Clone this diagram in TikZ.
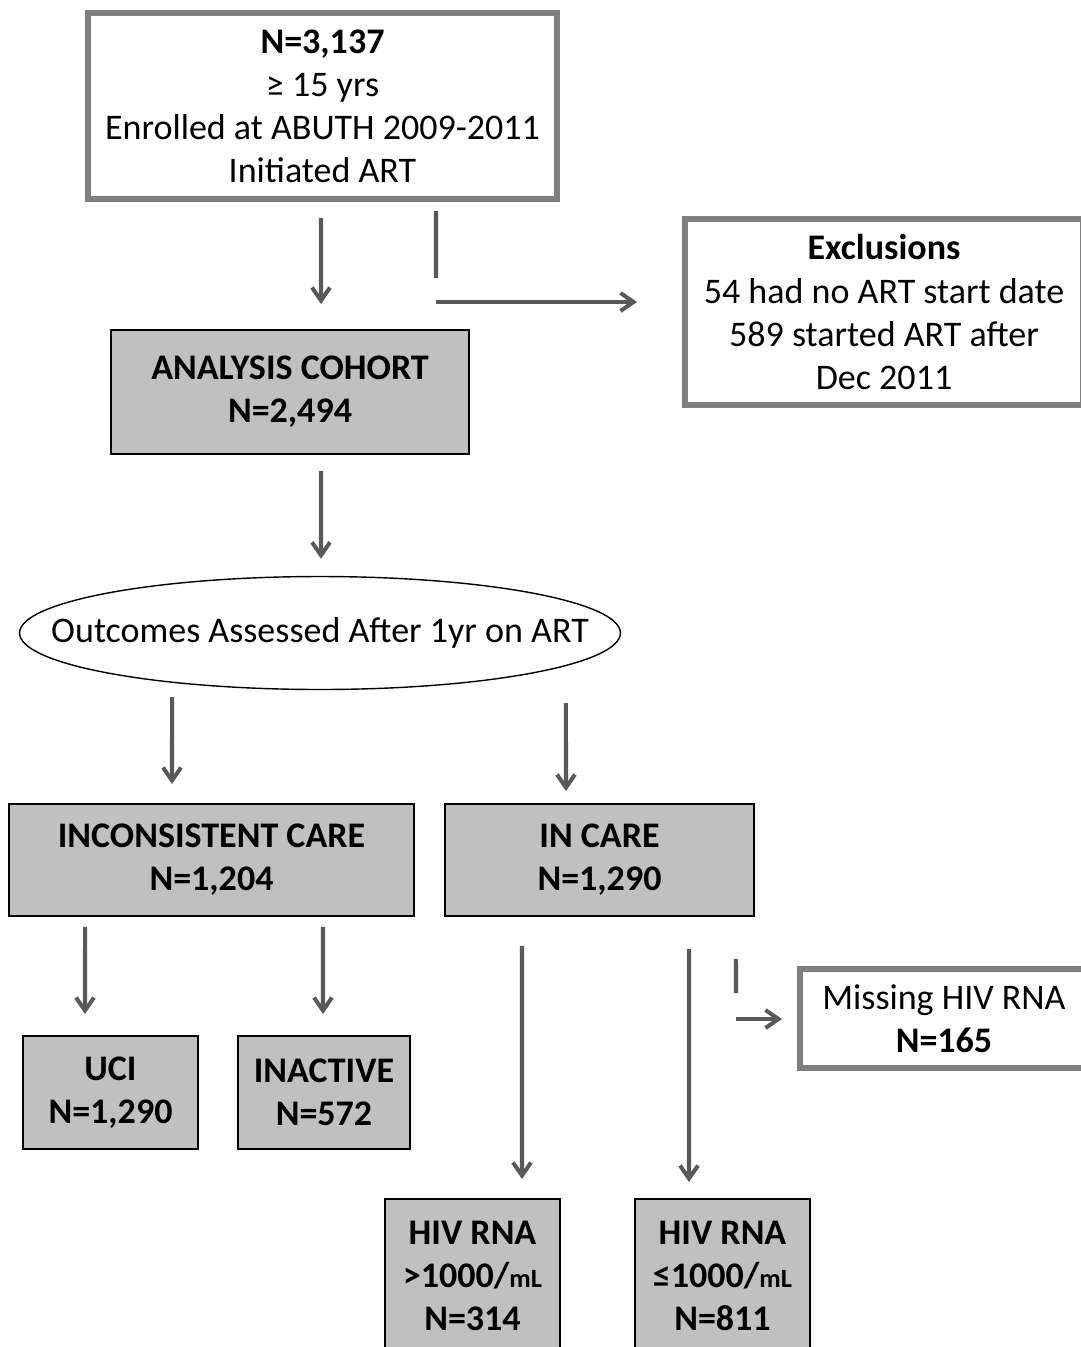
\documentclass[tikz,border=0pt]{standalone}
\usepackage{fontspec}
\setmainfont{Carlito}
\usetikzlibrary{arrows.meta,shapes.geometric}
\definecolor{linegray}{HTML}{595959}
\definecolor{framegray}{HTML}{7F7F7F}
\definecolor{boxgray}{HTML}{C0C0C0}
\newcommand{\boxfont}{\fontsize{20.5}{24.5}\selectfont}
\tikzset{
  outbox/.style={draw=framegray, line width=3.4pt, fill=white, align=center, inner sep=0pt},
  graybox/.style={draw=black, line width=1.1pt, fill=boxgray, align=center, inner sep=0pt, font=\boxfont\bfseries},
  link/.style={draw=linegray, line width=2.3pt},
  arr/.style={link, -{Straight Barb[length=2.6mm,width=3.6mm]}},
}
\begin{document}
\begin{tikzpicture}[x=0.02cm, y=-0.02cm, font=\boxfont]
    \useasboundingbox (0,0) rectangle (1081,1347);
    \clip (0,0) rectangle (1081,1347);
    % boxes
    \node[outbox, minimum width=9.38cm, minimum height=3.72cm] (top) at (322.5,106) {\textbf{N=3,137}\\≥ 15 yrs\\Enrolled at ABUTH 2009-2011\\Initiated ART};
    \node[outbox, minimum width=7.96cm, minimum height=3.72cm] (excl) at (884,312) {\textbf{Exclusions}\\54 had no ART start date\\589 started ART after\\Dec 2011};
    \node[graybox, minimum width=7.16cm, minimum height=2.48cm] (cohort) at (290,392) {ANALYSIS COHORT\\N=2,494};
    \node[draw, ellipse, line width=0.8pt, inner xsep=-1.2cm, inner ysep=0pt, minimum width=12.02cm, minimum height=2.26cm] (ell) at (320,633) {Outcomes Assessed After 1yr on ART};
    \node[graybox, minimum width=8.1cm, minimum height=2.24cm] (incons) at (211.5,860) {INCONSISTENT CARE\\N=1,204};
    \node[graybox, minimum width=6.18cm, minimum height=2.24cm] (incare) at (599.5,860) {IN CARE\\N=1,290};
    \node[graybox, minimum width=3.5cm, minimum height=2.26cm] (uci) at (110.5,1092.5) {UCI\\N=1,290};
    \node[graybox, minimum width=3.44cm, minimum height=2.26cm] (inactive) at (324,1092.5) {INACTIVE\\N=572};
    \node[outbox, minimum width=5.76cm, minimum height=1.98cm] (miss) at (944,1018.5) {Missing HIV RNA\\\textbf{N=165}};
    \node[graybox, minimum width=3.5cm, minimum height=3.08cm] (hivhi) at (472.5,1276) {HIV RNA\\>1000/{\fontsize{15}{18}\selectfont mL}\\N=314};
    \node[graybox, minimum width=3.5cm, minimum height=3.08cm] (hivlo) at (722.5,1276) {HIV RNA\\≤1000/{\fontsize{15}{18}\selectfont mL}\\N=811};
    \coordinate (split) at (436,302);
    \coordinate (gap) at (736,1019);
    % arrows
    \draw[arr] ([xshift=-0.03cm,yshift=-0.32cm]top.south) -- ([xshift=0.62cm,yshift=0.5cm]cohort.north);
    \draw[link] ([xshift=2.27cm,yshift=-0.18cm]top.south) -- ([yshift=0.48cm]split);
    \draw[arr, shorten >=0.9cm] (split) -- (split -| excl.west);
    \draw[arr] ([xshift=0.62cm,yshift=-0.32cm]cohort.south) -- ([xshift=0.02cm,yshift=0.34cm]ell.north);
    \draw[arr] ([xshift=-2.96cm,yshift=-0.14cm]ell.south) -- ([xshift=-0.79cm,yshift=0.38cm]incons.north);
    \draw[arr] ([xshift=4.92cm,yshift=-0.26cm]ell.south) -- ([xshift=-0.67cm,yshift=0.24cm]incare.north);
    \draw[arr] ([xshift=-2.53cm,yshift=-0.2cm]incons.south) -- ([xshift=-0.51cm,yshift=0.42cm]uci.north);
    \draw[arr] ([xshift=2.23cm,yshift=-0.2cm]incons.south) -- ([xshift=-0.02cm,yshift=0.42cm]inactive.north);
    \draw[arr] ([xshift=-1.55cm,yshift=-0.58cm]incare.south) -- ([xshift=0.99cm,yshift=0.38cm]hivhi.north);
    \draw[arr] ([xshift=1.79cm,yshift=-0.64cm]incare.south) -- ([xshift=-0.67cm,yshift=0.32cm]hivlo.north);
    \draw[link] ([xshift=2.73cm,yshift=-0.84cm]incare.south) -- ([yshift=0.52cm]gap);
    \draw[arr, shorten >=0.3cm] (gap) -- (gap -| miss.west);
\end{tikzpicture}
\end{document}
